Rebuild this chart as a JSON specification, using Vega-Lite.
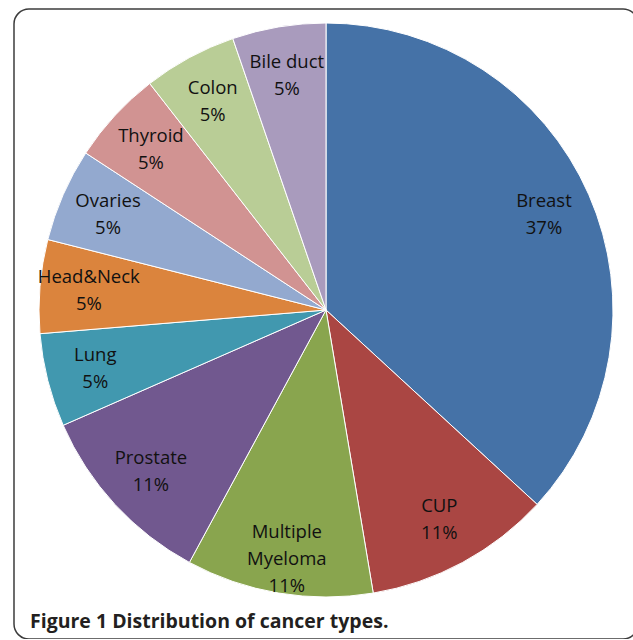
{
  "$schema": "https://vega.github.io/schema/vega-lite/v6.json",
  "width": 624,
  "height": 630,
  "autosize": {"type": "none"},
  "padding": {"left": 14, "top": 9, "right": 0, "bottom": 0},
  "background": "white",
  "view": {"stroke": "#3c3c3c", "strokeWidth": 1.5, "cornerRadius": 15, "fill": "white"},
  "title": {
    "text": "Figure 1 Distribution of cancer types.",
    "orient": "bottom",
    "anchor": "start",
    "frame": "group",
    "offset": -11,
    "dx": 16,
    "baseline": "alphabetic",
    "font": "Open Sans",
    "fontSize": 19.5,
    "fontWeight": "bold",
    "color": "#231f20"
  },
  "data": {
    "values": [
      {"idx": 1, "name": "Breast", "count": 7, "label": "Breast\n37%"},
      {"idx": 2, "name": "CUP", "count": 2, "label": "CUP\n11%"},
      {"idx": 3, "name": "Multiple Myeloma", "count": 2, "label": "Multiple\nMyeloma\n11%"},
      {"idx": 4, "name": "Prostate", "count": 2, "label": "Prostate\n11%"},
      {"idx": 5, "name": "Lung", "count": 1, "label": "Lung\n5%"},
      {"idx": 6, "name": "Head&Neck", "count": 1, "label": "Head&Neck\n5%"},
      {"idx": 7, "name": "Ovaries", "count": 1, "label": "Ovaries\n5%"},
      {"idx": 8, "name": "Thyroid", "count": 1, "label": "Thyroid\n5%"},
      {"idx": 9, "name": "Colon", "count": 1, "label": "Colon\n5%"},
      {"idx": 10, "name": "Bile duct", "count": 1, "label": "Bile duct\n5%"}
    ]
  },
  "encoding": {
    "theta": {"field": "count", "type": "quantitative", "stack": true},
    "order": {"field": "idx", "type": "quantitative"},
    "color": {
      "field": "name",
      "type": "nominal",
      "legend": null,
      "scale": {
        "domain": ["Breast", "CUP", "Multiple Myeloma", "Prostate", "Lung", "Head&Neck", "Ovaries", "Thyroid", "Colon", "Bile duct"],
        "range": ["#4572A7", "#AA4643", "#89A54E", "#71588F", "#4198AF", "#DB843D", "#93A9CF", "#D19392", "#B9CD96", "#A99BBD"]
      }
    }
  },
  "layer": [
    {
      "mark": {"type": "arc", "outerRadius": 287, "stroke": "white", "strokeWidth": 1, "yOffset": -14}
    },
    {
      "mark": {"type": "text", "radius": 238, "lineBreak": "\n", "lineHeight": 27, "font": "Open Sans", "fontSize": 18.5, "align": "center", "baseline": "middle", "dy": -13, "yOffset": -14},
      "encoding": {
        "text": {"field": "label"},
        "color": {"value": "#111111"}
      }
    }
  ]
}
